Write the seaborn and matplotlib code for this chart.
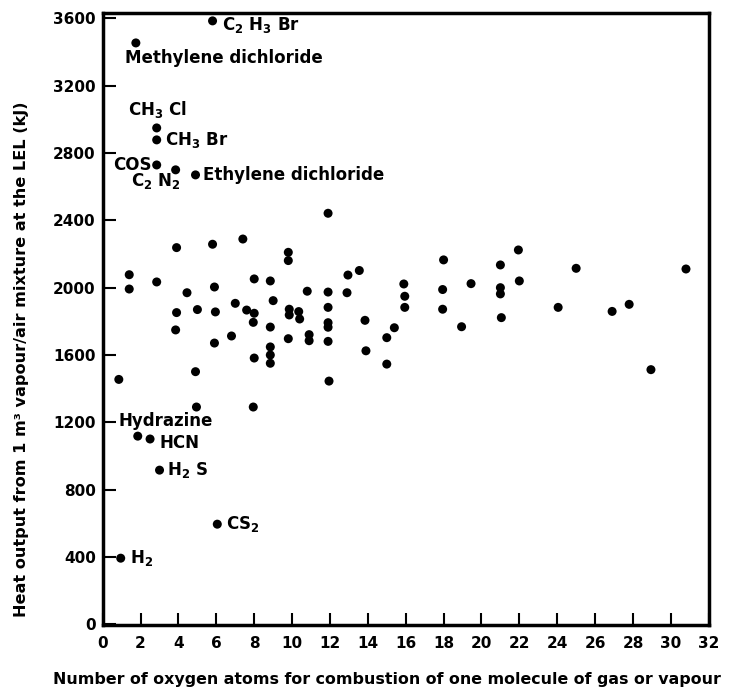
import matplotlib
matplotlib.use("Agg")
import matplotlib.pyplot as plt
import seaborn as sns
import pandas as pd

# ---- data ----
x_unlabeled = [3.9, 5.8, 7.4, 9.8, 9.8, 1.4, 1.4, 2.85, 4.45, 5.9,
               8.0, 8.85, 10.8, 9.0, 7.0, 3.9, 5.0, 5.95, 7.6, 8.0,
               7.95, 8.85, 9.85, 9.85, 10.35, 10.4, 3.85, 6.8, 5.9, 9.8,
               10.9, 10.9, 8.85, 8.85, 8.85, 8.0, 0.85, 4.9, 4.95, 7.95,
               11.9, 11.9, 11.9, 11.9, 11.9, 11.9, 11.95, 12.95, 13.55, 12.9,
               13.85, 13.9, 15.4, 15.0, 15.0, 15.9, 15.95, 15.95, 18.0, 17.95,
               17.95, 18.95, 19.45, 21.0, 21.0, 21.0, 21.05, 21.95, 22.0, 25.0,
               24.05, 26.9, 27.8, 28.95, 30.8]
y_unlabeled = [2237, 2257, 2288, 2209, 2160, 2076, 1991, 2033, 1969, 2003,
               2051, 2039, 1978, 1922, 1906, 1851, 1869, 1855, 1866, 1847,
               1793, 1765, 1871, 1837, 1857, 1813, 1748, 1712, 1670, 1696,
               1720, 1684, 1647, 1599, 1550, 1581, 1454, 1500, 1290, 1290,
               2441, 1973, 1882, 1791, 1764, 1680, 1444, 2074, 2101, 1969,
               1805, 1624, 1761, 1702, 1545, 2021, 1948, 1882, 2164, 1988,
               1871, 1767, 2023, 2134, 1999, 1962, 1821, 2223, 2039, 2114,
               1882, 1858, 1900, 1512, 2110]

label_names = ["C$_2$ H$_3$ Br", "Methylene dichloride", "CH$_3$ Cl", "CH$_3$ Br",
               "COS", "C$_2$ N$_2$", "Ethylene dichloride", "Hydrazine",
               "HCN", "H$_2$ S", "CS$_2$", "H$_2$"]
label_x = [5.8, 1.75, 2.85, 2.85, 2.85, 3.85, 4.9, 1.85, 2.5, 3.0, 6.05, 0.95]
label_y = [3584, 3453, 2948, 2877, 2728, 2699, 2669, 1117, 1100, 915, 594, 392]

x_ticks = list(range(0, 33, 2))
y_ticks = list(range(0, 3601, 400))

x_title = "Number of oxygen atoms for combustion of one molecule of gas or vapour"
y_title = "Heat output from 1 m³ vapour/air mixture at the LEL (kJ)"

# ---- styling (positions of annotation text, in pixels) ----
label_offsets = [(9, -4, "left"), (-11, -15, "left"), (-29, 18, "left"), (8, 0, "left"),
                 (-5, 0, "right"), (-45, -11, "left"), (7, 0, "left"), (-19, 15, "left"),
                 (9, -4, "left"), (7, 0, "left"), (9, 0, "left"), (9, 0, "left")]

sns.set_style("ticks")
plt.rcParams["font.family"] = ["DejaVu Sans"]
plt.rcParams["font.weight"] = "bold"
plt.rcParams["mathtext.default"] = "regular"
plt.rcParams["text.color"] = "black"
plt.rcParams["axes.labelcolor"] = "black"
plt.rcParams["xtick.color"] = "black"
plt.rcParams["ytick.color"] = "black"

df = pd.DataFrame({
    "x": x_unlabeled + label_x,
    "y": y_unlabeled + label_y,
})

fig = plt.figure(figsize=(7.39, 6.91), dpi=100)
ax = fig.add_axes([0.139, 0.0955, 0.820, 0.8855])

sns.scatterplot(data=df, x="x", y="y", ax=ax, color="black", s=42,
                edgecolor="none", linewidth=0, legend=False)

for name, lx, ly, (dx, dy, ha) in zip(label_names, label_x, label_y, label_offsets):
    ax.annotate(name, (lx, ly), xytext=(dx, dy), textcoords="offset pixels",
                ha=ha, va="center", fontsize=12, fontweight="bold", color="black")

ax.set_xlim(0, 32)
ax.set_ylim(-5, 3630)
ax.set_xticks(x_ticks)
ax.set_yticks(y_ticks)
ax.set_xticklabels([str(t) for t in x_ticks], fontsize=11, fontweight="bold", color="black")
ax.set_yticklabels([str(t) for t in y_ticks], fontsize=11, fontweight="bold", color="black")
ax.tick_params(axis="both", direction="in", length=9, width=1.5, color="black",
               labelcolor="black")
ax.tick_params(axis="x", pad=8)
ax.tick_params(axis="y", pad=5)

for sp in ax.spines.values():
    sp.set_visible(True)
    sp.set_linewidth(2.5)
    sp.set_color("black")

ax.set_xlabel(x_title, fontsize=11.4, fontweight="bold", color="black")
ax.set_ylabel(y_title, fontsize=11.6, fontweight="bold", color="black")
ax.xaxis.set_label_coords(0.469, -0.077)
ax.yaxis.set_label_coords(-0.122, 0.435)

fig.savefig("out.png", dpi=100, facecolor="white")
